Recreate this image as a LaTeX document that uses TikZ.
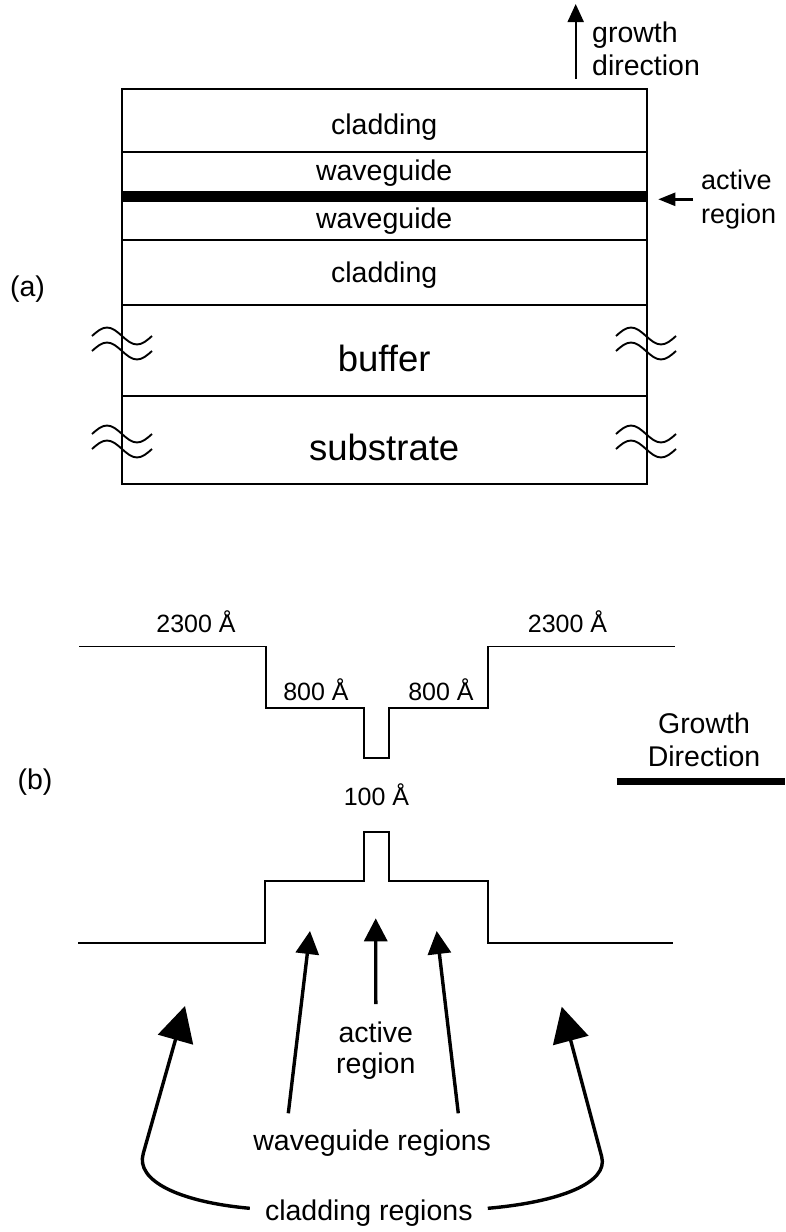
\documentclass[tikz,border=0pt]{standalone}
\usepackage{fontspec}
\setmainfont{Liberation Sans}
\usetikzlibrary{arrows.meta}
\begin{document}
\begin{tikzpicture}[x=1pt,y=-1pt,
  lbl/.style={inner sep=0pt,font=\fontsize{28.5}{33}\selectfont},
  actlbl/.style={inner sep=0pt,font=\fontsize{27}{34}\selectfont},
  biglbl/.style={inner sep=0pt,font=\fontsize{36.5}{40}\selectfont},
  anglbl/.style={inner sep=0pt,font=\fontsize{25}{29}\selectfont},
  layerline/.style={line width=2pt},
  profline/.style={line width=1.3pt},
  uparrow/.style={line width=2pt,-{Triangle[length=18pt,width=16pt]}},
  sidearrow/.style={line width=2.4pt,-{Triangle[length=17pt,width=13pt]}},
  wgarrow/.style={line width=3.4pt,-{Triangle[length=23pt,width=23pt]}},
  cladarrow/.style={line width=3.4pt,-{Triangle[length=35pt,width=36pt]}}]
\useasboundingbox (0,0) rectangle (785,1232);
% (a) layer stack
\draw[layerline] (121.7,89.3) rectangle (646.7,484.3);
\foreach \y in {152.3,240,304.5,395.7}
  \draw[layerline] (121.7,\y) -- (646.7,\y);
\fill (121.7,190.7) rectangle (646.7,202);
\foreach \x in {92,616}
  \foreach \y in {336,351,434,449}
    \draw[line width=1.9pt] (\x,\y) sin ++(15,-8.5) cos ++(15,8.5) sin ++(15,8.5) cos ++(15,-8.5);
\node[lbl] (clad1) at (384.2,127) {cladding};
\node[lbl] (wg1) at (384.2,173) {waveguide};
\node[lbl] (wg2) at (384.2,221.5) {waveguide};
\node[lbl] (clad2) at (384.2,275.5) {cladding};
\node[biglbl] (buf) at (384.2,358) {buffer};
\node[biglbl] (sub) at (384.2,447) {substrate};
\node[lbl] (lbla) at (27.5,289) {(a)};
\node[lbl,anchor=west,align=left] (grow) at (592,49) {growth\\direction};
\coordinate (gtail) at (575.7,79);
\coordinate (ghead) at (575.7,4);
\draw[uparrow] (gtail) -- (ghead);
\node[actlbl,anchor=west,align=left,inner xsep=8pt] (act) at (693,199.3) {active\\region};
\coordinate (abar) at (658.3,199.3);
\draw[sidearrow] (act.west) -- (abar);
% (b) profiles
\draw[profline] (79,646.5) -- (266,646.5) -- (266,708) -- (364,708) -- (364,758)
  -- (389,758) -- (389,708) -- (488,708) -- (488,646.5) -- (675,646.5);
\draw[profline] (78,943) -- (265,943) -- (265,881) -- (364,881) -- (364,832)
  -- (389,832) -- (389,881) -- (488,881) -- (488,943) -- (673,943);
\node[anglbl] (cl1) at (196,621.5) {2300 Å};
\node[anglbl] (cl2) at (567.5,621.5) {2300 Å};
\node[anglbl] (wv1) at (316,690) {800 Å};
\node[anglbl] (wv2) at (441,690) {800 Å};
\node[anglbl] (qw) at (376.5,795) {100 Å};
\node[lbl] (lblb) at (35,781.7) {(b)};
\node[lbl,align=center] (gd) at (704,740) {Growth\\Direction};
\coordinate (gdl) at (616.7,781.7);
\coordinate (gdr) at (785,781.7);
\draw[line width=6.5pt] (gdl) -- (gdr);
\node[lbl,align=center,inner ysep=18pt,font=\fontsize{28.5}{31}\selectfont] (actb) at (375.8,1051) {active\\region};
\node[lbl] (wgr) at (372.2,1143.3) {waveguide regions};
\node[lbl,inner xsep=15pt] (clr) at (368.8,1213.3) {cladding regions};
\coordinate (tipa) at (375.7,918.3);
\coordinate (wgt1) at (288.3,1113.3);
\coordinate (wgt2) at (458.3,1113.3);
\coordinate (tipw1) at (310,931);
\coordinate (tipw2) at (436.7,931);
\coordinate (tipc1) at (185,1006);
\coordinate (tipc2) at (561.7,1006.7);
\draw[wgarrow] (actb.north) -- (tipa);
\draw[wgarrow] (wgt1) -- (tipw1);
\draw[wgarrow] (wgt2) -- (tipw2);
\draw[cladarrow] ([yshift=5pt]clr.west) .. controls (180,1202) and (135,1181) .. (143.3,1153.3) -- (tipc1);
\draw[cladarrow] ([yshift=5pt]clr.east) .. controls (560,1202) and (608.7,1182.7) .. (601.7,1156.7) -- (tipc2);
\end{tikzpicture}
\end{document}
